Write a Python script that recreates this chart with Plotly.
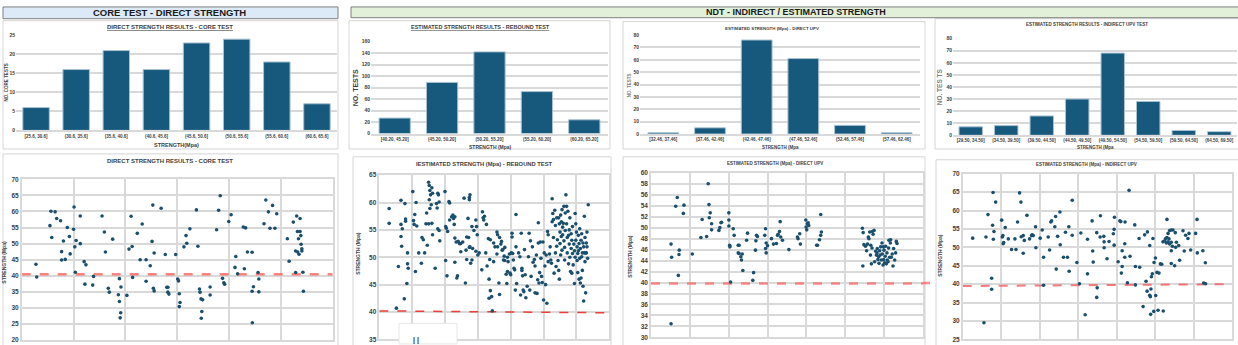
import plotly.graph_objects as go

W, H = 1238, 345
FONT = "Liberation Sans"
BAR_COLOR = "#17597c"
DOT_COLOR = "#1b4f6e"
GRID = "#d9d9d9"
TXT = "#404040"

# ---------------- DATA ----------------
core_bins = ["[25.6, 30.6]", "(30.6, 35.6]", "(35.6, 40.6]", "(40.6, 45.6]",
             "(45.6, 50.6]", "(50.6, 55.6]", "(55.6, 60.6]", "(60.6, 65.6]"]
core_counts = [6, 16, 21, 16, 23, 24, 18, 7]

reb_bins = ["[40.20, 45.20]", "(45.20, 50.20]", "(50.20, 55.20]", "(55.20, 60.20]", "(60.20, 65.20]"]
reb_counts = [27, 89, 142, 73, 24]

dupv_bins = ["[32.46, 37.46]", "(37.46, 42.46]", "(42.46, 47.46]", "(47.46, 52.46]",
             "(52.46, 57.46]", "(57.46, 62.46]"]
dupv_counts = [1, 5, 76, 61, 7, 1]

iupv_bins = ["[29.50, 34.50]", "(34.50, 39.50]", "(39.50, 44.50]", "(44.50, 49.50]",
             "(49.50, 54.50]", "(54.50, 59.50]", "(59.50, 64.50]", "(64.50, 69.50]"]
iupv_counts = [7, 8, 16, 30, 68, 28, 4, 3]

core_points = [(5.5,43.6),(5.8,39.6),(10.9,55.6),(11.3,60.1),(12.9,59.9),(11.6,51.9),(13.5,57.8),(15.0,57.1),(16.1,50.8),(15.4,47.5),(15.4,44.9),(16.8,45.1),(17.6,55.0),(18.4,52.2),(18.7,46.8),(20.2,61.4),(20.0,54.5),(20.5,49.0),(21.0,51.0),(20.7,41.1),(22.6,58.6),(22.6,50.0),(24.1,44.4),(24.8,43.4),(24.4,37.4),(27.7,39.8),(27.4,37.1),(31.0,58.6),(31.9,53.6),(32.3,47.4),(35.1,51.4),(33.4,36.1),(33.8,34.9),(37.7,39.1),(38.3,36.5),(37.3,34.1),(37.7,32.0),(38.2,28.5),(38.0,26.9),(40.6,33.9),(41.4,48.3),(42.6,49.1),(42.2,58.5),(42.8,39.5),(44.6,53.2),(45.7,45.0),(46.5,56.1),(48.0,45.0),(48.0,38.3),(49.6,43.1),(50.3,50.7),(50.6,62.0),(50.8,36.1),(51.1,35.3),(51.1,47.1),(53.8,61.0),(55.4,46.6),(56.0,36.4),(56.4,36.4),(56.4,34.9),(56.8,34.3),(59.4,46.6),(60.2,39.0),(60.5,38.4),(60.8,34.4),(61.1,31.7),(60.8,30.4),(62.6,49.0),(63.4,52.5),(63.7,50.1),(64.9,54.6),(67.4,60.5),(68.0,49.2),(68.6,35.9),(68.8,34.9),(69.2,32.8),(69.8,32.5),(69.5,28.9),(69.3,26.8),(72.7,36.5),(72.7,34.0),(75.2,54.3),(76.0,60.4),(76.6,64.9),(77.5,39.2),(78.0,37.8),(78.3,37.4),(79.9,56.9),(80.8,59.0),(82.6,46.0),(82.3,42.6),(83.3,40.6),(85.5,55.2),(86.4,54.9),(85.9,42.2),(87.1,47.4),(88.9,47.3),(88.9,35.2),(89.4,36.6),(89.0,25.4),(91.2,41.0),(91.5,39.0),(91.5,35.0),(93.5,56.2),(94.2,63.6),(95.2,59.9),(95.8,54.8),(96.8,61.9),(97.7,54.8),(98.4,59.3),(102.5,51.5),(103.2,44.5),(104.8,56.7),(105.7,47.7),(105.7,41.0),(106.1,58.6),(106.4,53.8),(106.8,51.5),(106.5,47.4),(107.0,46.7),(107.4,57.8),(107.4,53.8),(107.7,52.5),(107.8,49.8),(108.1,48.4),(108.1,47.7),(108.5,41.1),(108.7,35.2)]

rebound_points = [(15,58.9),(15,56.2),(26,40.7),(29,48.3),(33,60.4),(33,56),(33,53.8),(34,52),(35,55.2),(38,42.4),(39,59.8),(40,57),(40,56.6),(43,50.8),(42,45.2),(43,48.8),(44,48),(51,62),(52,56.7),(53,56),(54,57.8),(55,47.4),(56,60),(57,55.7),(60,50.8),(64,48.9),(65,53.6),(67,53.2),(69,50.8),(71,56.1),(72,58.1),(73,52.2),(75,63.7),(76,63.1),(77,62.2),(78,61.4),(76,60.5),(79,59.6),(77,58.9),(80,62.7),(81,61.7),(75,56.1),(80,56.2),(81,54.1),(85,48),(87,59.8),(88,59),(89,61.7),(90,61.4),(91,60.1),(89,55.2),(91,54.9),(92,53),(100,62),(101,55.6),(102,55.3),(101,49.4),(103,46.6),(104,54.7),(106,60.2),(107,56.8),(107,59.9),(110,57.4),(112,57.7),(113,57.1),(115,57.4),(114,56),(115,53.5),(115,49.1),(117,52.8),(118,46.2),(119,46.6),(120,52.9),(122,52.5),(124,51),(124,52.5),(127,52.8),(129,60.8),(131,45.3),(132,51.3),(133,49.6),(133,53.7),(136,53.6),(137,60.9),(137,51.8),(138,61.4),(135,57.1),(137,60.5),(138,51.9),(139,48.9),(141,49.5),(141,55.6),(142,51.6),(144,54.9),(147,56.8),(147,51.1),(148,55.6),(149,54.1),(150,50.4),(152,50.8),(156,47.7),(157,58.3),(158,57.2),(159,56.8),(160,57.5),(162,50.8),(163,56),(164,48.4),(166,53.4),(167,42.5),(167,46),(168,49.6),(169,53.2),(169,43.9),(171,42.8),(172,40.2),(174,52.6),(174,49.2),(176,51.9),(179,54.6),(179,50.6),(180,54.1),(180,51.9),(182,45.3),(183,43.2),(183,53.6),(185,52.4),(186,52.9),(187,51.3),(188,51.4),(189,49.5),(190,50.2),(191,49.4),(191,51.8),(193,46.9),(194,45.2),(195,47.4),(195,50),(196,49.2),(198,50.6),(199,47.1),(200,46.8),(201,50.8),(202,53.7),(202,54.4),(203,50.7),(204,49.5),(205,48),(206,47.7),(207,44),(208,57.8),(208,51.9),(209,45.2),(212,50.8),(214,50.1),(215,43.1),(216,54.4),(217,48),(217,47.6),(218,46.6),(219,44),(220,43.7),(221,51.4),(222,46.8),(223,42.6),(225,44.7),(227,50.1),(228,54.4),(229,44),(230,53),(231,46.5),(233,51.9),(234,49.1),(236,49.6),(237,43.5),(237,48.4),(239,50.4),(240,43.4),(241,45.9),(242,56.3),(242,52.6),(243,45.3),(244,47.2),(245,52.8),(246,49.8),(247,46.5),(248,45.4),(249,52.8),(250,42.2),(251,50.8),(252,48.4),(253,45),(254,50.4),(255,41.6),(256,54.7),(257,49.2),(257,54.1),(259,50.6),(260,51.9),(261,49.5),(262,48.9),(263,60.7),(263,56.5),(264,58),(265,56.9),(265,53.6),(266,47.1),(267,58.6),(268,50.8),(268,55.8),(269,48.3),(270,57.2),(270,52),(271,53.2),(272,49.4),(273,47.6),(273,57.2),(274,46),(274,56.1),(275,52.5),(275,54.6),(276,50.4),(276,57.7),(277,56.5),(277,53.8),(278,58.7),(278,51.3),(279,55.5),(279,54.1),(280,56.2),(281,53),(281,59.3),(282,51.8),(282,49.5),(283,58.1),(283,54.9),(284,61.4),(285,59.3),(285,56.1),(286,53.6),(286,50.8),(287,58.4),(288,48.8),(288,54),(289,55),(289,52.4),(290,57.2),(290,50),(291,47.4),(292,54.3),(292,51.6),(293,47.1),(293,53.1),(294,55.6),(294,50.7),(295,48.6),(296,52.4),(297,45.2),(297,51.2),(298,50),(298,58),(299,53.1),(299,56.1),(300,54.6),(301,51.9),(301,49.4),(302,50.7),(302,47.2),(303,54),(303,51.2),(304,46),(304,52.5),(305,55.2),(305,49.8),(306,45.3),(306,51.6),(307,46.2),(307,53.1),(308,50.1),(308,54.3),(309,50.8),(309,47.6),(310,52.6),(310,44.7),(311,51.9),(311,42),(312,57.5),(312,50.8),(313,49.2),(313,53.6),(314,50.8),(314,43.5),(315,52.6),(315,50.8),(316,51.9),(316,54.6),(317,49.8),(318,59.6)]

dupv_points = [(12.9,32.5),(12.9,47.0),(13.3,44.6),(15.9,53.9),(16.9,55.5),(17.6,41.3),(18.2,45.9),(18.0,45.1),(20.8,52.6),(21.2,54.1),(26.6,45.2),(32.1,48.2),(32.9,51.5),(35.8,48.4),(36.8,58.0),(37.3,54.2),(37.5,51.8),(38.1,52.7),(39.0,50.7),(39.0,49.6),(43.7,49.5),(44.3,50.0),(45.0,50.9),(45.4,51.0),(50.1,52.7),(50.1,51.4),(50.1,50.3),(50.6,46.8),(50.8,46.5),(51.2,40.1),(52.9,49.8),(53.5,48.6),(56.1,46.8),(56.7,46.8),(56.1,45.4),(56.7,45.3),(57.8,44.7),(58.2,44.1),(58.7,45.2),(59.1,42.2),(61.5,47.7),(62.1,49.0),(65.5,40.4),(66.0,41.8),(67.2,45.9),(67.9,48.6),(67.5,47.6),(68.5,48.4),(73.2,48.6),(73.7,49.8),(73.7,46.2),(74.1,45.4),(74.1,47.2),(75.0,46.7),(77.5,48.0),(78.8,47.0),(80.7,47.1),(81.4,48.6),(81.8,48.8),(82.7,49.3),(83.1,51.1),(83.5,48.3),(84.6,47.7),(88.7,46.0),(94.2,48.3),(94.6,48.0),(95.7,48.9),(96.1,47.0),(99.6,51.4),(99.8,50.1),(100.2,49.6),(100.6,50.7),(101.1,50.9),(101.5,50.4),(106.6,46.8),(107.1,46.8),(108.4,47.8),(109.2,48.6),(109.6,49.2),(109.2,52.4),
(136.0,49.9),(136.5,49.1),(136.3,43.0),(137.0,46.9),(138.0,46.6),(138.7,45.8),(139.3,47.0),(139.8,48.3),(140.2,48.0),(140.7,49.2),(141.2,45.0),(141.4,46.8),(141.8,43.4),(142.2,46.3),(142.4,49.3),(142.9,48.8),(143.5,49.5),(143.9,43.8),(144.6,45.7),(145.0,45.0),(145.4,45.4),(145.6,46.2),(146.0,44.2),(146.5,44.7),(146.7,43.5),(147.1,45.8),(147.4,45.0),(147.8,46.5),(148.2,44.1),(148.6,47.2),(148.8,45.2),(149.3,43.2),(149.5,46.5),(149.7,44.2),(149.9,45.9),(150.3,43.6),(150.7,44.8),(151.0,46.6),(151.4,43.4),(151.8,45.4),(152.0,44.1),(152.5,43.8),(152.9,46.3),(153.1,47.7),(153.5,44.6),(154.0,47.2),(154.2,47.8),(154.6,44.6),(155.2,45.2),(155.7,43.0),(156.1,46.2),(156.8,44.1),(157.4,45.4),(157.8,47.5),(158.3,47.1)]

iupv_points = [(6.5,52.5),(13.8,29.5),(15.1,52.8),(16.4,58.9),(18.8,41.6),(18.8,38.6),(19.4,56.0),(19.7,64.9),(19.9,52.2),(20.3,54.3),(21.4,62.3),(25.3,57.4),(25.7,52.8),(26.1,53.2),(26.3,51.0),(26.6,51.3),(27.6,55.4),(29.6,52.3),(31.7,49.4),(33.9,52.3),(34.6,49.4),(35.6,56.9),(36.9,64.8),(37.8,62.3),(38.0,52.9),(39.3,53.2),(39.3,48.4),(40.0,51.9),(41.7,58.7),(43.4,52.3),(44.7,53.2),(45.1,53.4),(45.8,53.2),(47.3,55.6),(47.5,49.9),(50.3,52.5),(51.6,54.7),(52.5,47.3),(52.5,39.7),(55.5,52.8),(56.4,49.3),(57.2,56.9),(57.7,57.2),(59.8,55.6),(60.3,58.4),(60.7,44.1),(61.6,53.0),(63.1,59.6),(63.3,50.7),(65.4,47.3),(66.7,54.1),(68.0,47.3),(68.9,55.6),(69.1,43.5),(71.1,62.8),(71.1,53.3),(74.1,45.9),(75.8,40.1),(76.7,53.9),(79.5,31.7),(81.0,42.8),(81.0,52.2),(84.0,57.2),(84.4,49.0),(84.7,46.0),(87.0,36.4),(87.3,39.0),(87.0,54.0),(89.2,52.8),(89.4,58.6),(91.6,53.0),(91.8,51.5),(91.8,49.9),(93.7,46.9),(95.0,51.6),(97.8,53.7),(98.3,54.9),(98.3,50.6),(98.5,58.2),(100.9,46.1),(102.0,57.2),(102.6,57.0),(103.0,43.0),(103.5,49.1),(103.5,44.8),(105.2,47.3),(105.2,51.0),(105.4,56.9),(106.9,40.4),(108.0,65.5),(108.6,47.6),
(111.7,56.1),(114.5,52.4),(118.1,53.4),(119.9,54.2),(123.5,52.4),(121.4,50.5),(132.6,57.6),(152.1,57.6),(134.3,54.6),(135.4,54.7),(136.5,54.7),(133.3,53.8),(138.0,54.0),(143.0,54.5),(144.7,53.3),(146.9,53.8),(146.2,52.4),(151.2,53.8),(131.7,52.4),(132.6,52.7),(133.9,52.3),(130.0,51.5),(131.1,51.8),(132.2,51.2),(133.3,51.5),(134.3,50.9),(135.4,51.4),(136.1,50.3),(138.7,51.4),(140.2,50.5),(138.2,50.0),(135.4,49.1),(143.8,49.0),(148.0,49.3),(152.3,48.5),(155.9,49.1),(140.8,46.5),(135.4,45.6),(137.6,45.0),(157.5,45.8),(125.1,47.1),(124.2,45.9),(128.3,45.5),(129.2,45.4),(112.1,44.8),(114.9,44.6),(126.1,43.2),(127.4,43.0),(123.1,42.8),(122.5,42.0),(119.0,40.8),(112.1,39.8),(156.4,40.3),(157.7,40.1),(119.7,38.1),(122.2,38.7),(121.4,37.0),(121.8,36.6),(125.3,36.9),(117.1,33.9),(124.0,32.6),(122.0,31.8),(126.8,32.9),(130.2,32.7)]

# threshold (red dashed) lines
core_limit_x, core_limit_y = [0, 120], [40.5, 40.5]
reb_limit_x, reb_limit_y = [0, 350], [40.2, 39.85]
dupv_limit_x, dupv_limit_y = [0, 175], [39.8, 39.8]
iupv_limit_x, iupv_limit_y = [0, 175], [39.5, 40.0]

# ---------------- helpers ----------------
def px(x):
    return x / W

def py(y):
    return 1 - y / H

fig = go.Figure()
layout = dict(width=W, height=H, autosize=False, margin=dict(l=0, r=0, t=0, b=0),
              paper_bgcolor="white", plot_bgcolor="white", showlegend=False,
              font=dict(family=FONT, color=TXT), shapes=[], annotations=[])

def axname(i, kind):
    return f"{kind}axis" if i == 1 else f"{kind}axis{i}"

def ref(i, kind):
    return kind if i == 1 else f"{kind}{i}"

def add_bar(i, cats, vals, box, ymax, dtick, tickfs=5, catfs=4.5):
    x0, x1, ytop, ybot = box
    fig.add_trace(go.Bar(x=cats, y=vals, xaxis=ref(i, "x"), yaxis=ref(i, "y"),
                         marker=dict(color=BAR_COLOR, line=dict(color="#a8c3d3", width=1)),
                         width=0.66))
    layout[axname(i, "x")] = dict(domain=[px(x0), px(x1)], anchor=ref(i, "y"), type="category",
                                  showgrid=False, showline=True, linecolor=GRID, linewidth=1.5,
                                  ticks="", tickangle=0,
                                  tickfont=dict(size=catfs, color=TXT, family=FONT, weight="bold"))
    layout[axname(i, "y")] = dict(domain=[py(ybot), py(ytop)], anchor=ref(i, "x"), range=[0, ymax],
                                  dtick=dtick, showgrid=True, gridcolor=GRID, gridwidth=1.5,
                                  zeroline=False, showline=False, ticks="",
                                  tickfont=dict(size=tickfs, color=TXT, family=FONT, weight="bold"))

def add_scatter(i, pts, lim_x, lim_y, box, xmax, xdtick, yr, ydtick, lcol, lw, tickfs=6.5):
    x0, x1, ytop, ybot = box
    xs = [p[0] for p in pts]
    ys = [p[1] for p in pts]
    fig.add_trace(go.Scatter(x=lim_x, y=lim_y, mode="lines", xaxis=ref(i, "x"), yaxis=ref(i, "y"),
                             line=dict(color=lcol, width=lw, dash="dash")))
    fig.add_trace(go.Scatter(x=xs, y=ys, mode="markers", xaxis=ref(i, "x"), yaxis=ref(i, "y"),
                             marker=dict(color=DOT_COLOR, size=3.6)))
    layout[axname(i, "x")] = dict(domain=[px(x0), px(x1)], anchor=ref(i, "y"), range=[0, xmax],
                                  dtick=xdtick, showgrid=True, gridcolor=GRID, gridwidth=1.5,
                                  zeroline=False, showticklabels=False, ticks="",
                                  showline=True, mirror=True, linecolor=GRID, linewidth=1.5)
    layout[axname(i, "y")] = dict(domain=[py(ybot), py(ytop)], anchor=ref(i, "x"), range=yr,
                                  dtick=ydtick, showgrid=True, gridcolor=GRID, gridwidth=1.5,
                                  zeroline=False, ticks="", showline=True, mirror=True,
                                  linecolor=GRID, linewidth=1.5,
                                  tickfont=dict(size=tickfs, color=TXT, family=FONT, weight="bold"))

def panel(x0, y0, x1, y1):
    layout["shapes"].append(dict(type="rect", xref="paper", yref="paper", layer="below",
                                 x0=px(x0), x1=px(x1), y0=py(y1), y1=py(y0),
                                 fillcolor="white", line=dict(color="#d4d4d4", width=1)))

def text(x, y, s, size, color=TXT, angle=0, bold=True):
    layout["annotations"].append(dict(xref="paper", yref="paper", x=px(x), y=py(y), text=s,
                                      showarrow=False, textangle=angle, xanchor="center",
                                      yanchor="middle",
                                      font=dict(size=size, color=color, family=FONT,
                                                weight="bold" if bold else "normal")))

# ---------------- panels & headers ----------------
panel(3, 17, 338, 148)
panel(349, 17, 610, 148)
panel(623, 18, 925, 148)
panel(935, 15, 1240, 148)
panel(3, 153, 338, 350)
panel(353, 156, 611, 350)
panel(623, 156, 925, 350)
panel(936, 159, 1240, 350)

layout["shapes"].append(dict(type="rect", xref="paper", yref="paper", x0=px(3), x1=px(338),
                             y0=py(15), y1=py(3), fillcolor="#dce9f7",
                             line=dict(color="#7f7f7f", width=1)))
layout["shapes"].append(dict(type="rect", xref="paper", yref="paper", x0=px(351), x1=px(1240),
                             y0=py(14), y1=py(3), fillcolor="#e2f0d9",
                             line=dict(color="#7f7f7f", width=1)))
text(170, 8.5, "CORE TEST - DIRECT STRENGTH", 9.5, color="#1a1a1a")
text(796, 8.5, "NDT - INDIRECT / ESTIMATED STRENGTH", 9, color="#1a1a1a")

# ---------------- bar charts ----------------
add_bar(1, core_bins, core_counts, (16, 337, 32, 129), 25, 5)
add_bar(2, reb_bins, reb_counts, (371, 608, 38.3, 132.3), 160, 20)
add_bar(3, dupv_bins, dupv_counts, (640, 920, 31.7, 132.7), 80, 10)
add_bar(4, iupv_bins, iupv_counts, (953, 1237, 35.3, 134), 80, 10)

text(170, 23, "<u>DIRECT STRENGTH RESULTS - CORE TEST</u>", 6)
text(480, 23, "<u>ESTIMATED STRENGTH RESULTS - REBOUND TEST</u>", 5.5)
text(772, 24.5, "ESTIMATED STRENGTH (Mpa) - DIRECT UPV", 4.4)
text(1087, 21, "ESTIMATED STRENGTH RESULTS - INDIRECT UPV TEST", 4.5)

text(176, 144, "STRENGTH(Mpa)", 5.5)
text(490, 146, "STRENGTH (Mpa)", 5)
text(780, 146, "STRENGTH (Mpa", 4.5)
text(1095, 146, "STRENGTH (Mpa", 4.5)

text(6, 80, "NO. CORE TESTS", 4.5, angle=-90)
text(355, 86, "NO. TESTS", 7, angle=-90)
text(629, 83, "NO. TESTS", 4.5, color="#7f7f7f", angle=-90)
text(939, 85, "NO. TES TS", 6.5, color="#7f7f7f", angle=-90)

# ---------------- scatter charts ----------------
add_scatter(5, core_points, core_limit_x, core_limit_y, (21.7, 332.7, 179, 343), 120, 20,
            [20, 70], 5, "rgba(255,90,80,0.75)", 2.5)
add_scatter(6, rebound_points, reb_limit_x, reb_limit_y, (379.3, 609.3, 174.7, 342.3), 350, 50,
            [35, 65], 5, "#e8403a", 1.5)
add_scatter(7, dupv_points, dupv_limit_x, dupv_limit_y, (651, 923, 172.3, 340.3), 175, 25,
            [30, 60], 2, "rgba(255,90,90,0.7)", 2.5)
add_scatter(8, iupv_points, iupv_limit_x, iupv_limit_y, (962.7, 1232.3, 173.3, 342.3), 175, 25,
            [25, 70], 5, "rgba(240,80,80,0.75)", 2)

text(170, 160, "DIRECT STRENGTH RESULTS - CORE TEST", 6)
text(484, 163, "IESTIMATED STRENGTH (Mpa) - REBOUND TEST", 5.8)
text(775, 163, "ESTIMATED STRENGTH (Mpa) - DIRECT UPV", 4.5)
text(1086, 164, "ESTIMATED STRENGTH (Mpa) - INDIRECT UPV", 4.5)

text(4, 264, "STRENGTH (Mpa)", 5, angle=-90)
text(358, 255, "STRENGTH (Mpa)", 5, angle=-90)
text(630, 258, "STRENGTH (Mpa)", 5, angle=-90)
text(940, 257, "STRENGTH (Mpa)", 5, angle=-90)

# red dash overflowing to the right of the direct UPV chart
layout["shapes"].append(dict(type="line", xref="paper", yref="paper", x0=px(923), x1=px(930),
                             y0=py(284.8), y1=py(284.8),
                             line=dict(color="rgba(255,90,90,0.7)", width=2.5, dash="dash")))

# small white overlay box in rebound scatter
layout["shapes"].append(dict(type="rect", xref="paper", yref="paper", x0=px(399), x1=px(457),
                             y0=py(347), y1=py(326), fillcolor="white",
                             line=dict(color="#e6e6e6", width=1)))
text(416, 343, "| |", 7, color="#222222")

fig.update_layout(**layout)
fig.write_html("out.html")
